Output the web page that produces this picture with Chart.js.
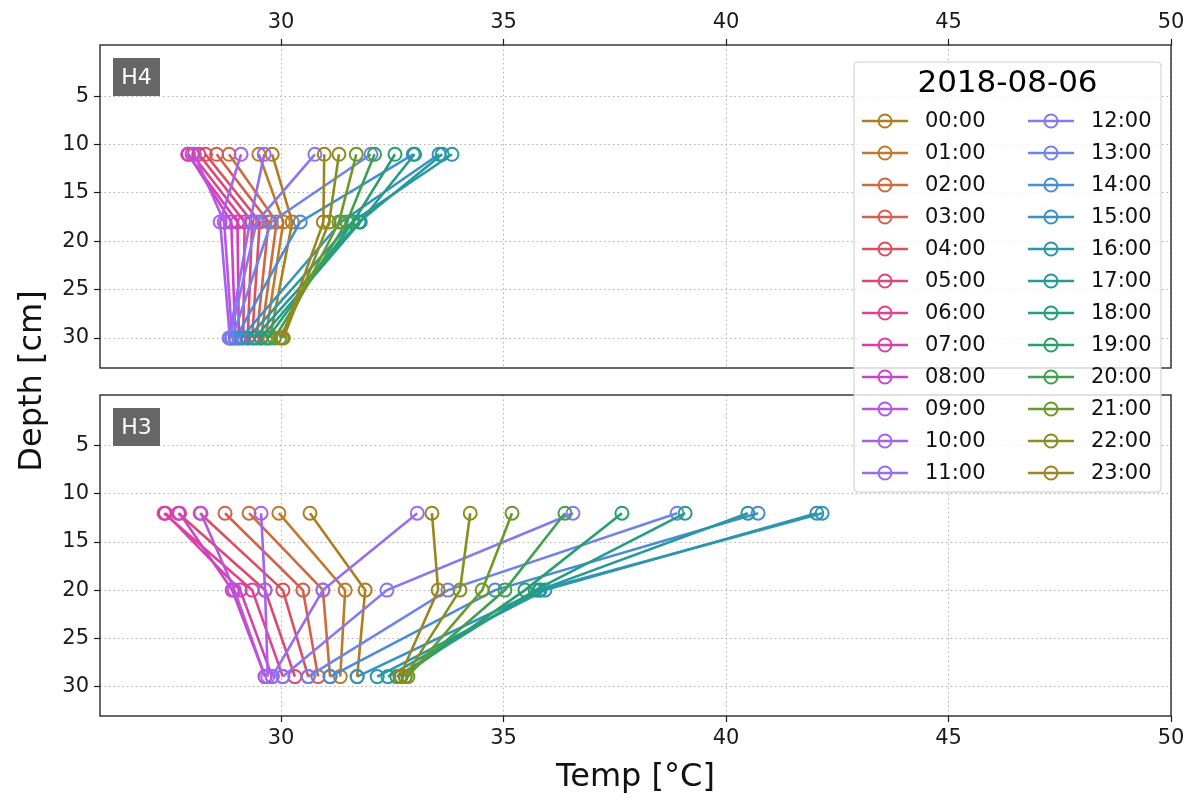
<!DOCTYPE html>
<html>
<head>
<meta charset="utf-8">
<script src="https://cdn.jsdelivr.net/npm/chart.js@4.4.0/dist/chart.umd.min.js"></script>
<style>
  body { margin: 0; background: #fff; }
  #wrap { position: relative; width: 1193px; height: 801px; }
  canvas { position: absolute; left: 0; top: 0; }
</style>
</head>
<body>
<div id="wrap">
  <canvas id="bottomChart" width="1193" height="801"></canvas>
  <canvas id="topChart" width="1193" height="801"></canvas>
</div>
<script>
// Datos
const legendTitle = '2018-08-06';
const hours = ['00:00', '01:00', '02:00', '03:00', '04:00', '05:00', '06:00', '07:00',
  '08:00', '09:00', '10:00', '11:00', '12:00', '13:00', '14:00', '15:00',
  '16:00', '17:00', '18:00', '19:00', '20:00', '21:00', '22:00', '23:00'];

const xTicks = [30, 35, 40, 45, 50];
const yTicks = [5, 10, 15, 20, 25, 30];

// H4: profundidades 11, 18, 30 cm
const depthsH4 = [11, 18, 30];
const h4At11 = [29.8, 29.5, 28.83, 28.55, 28.3, 28.15, 28.0, 27.9, 27.92, 28.05, 29.1, 29.62,
  30.76, 32.02, 32.97, 33.55, 33.84, 33.62, 33.0, 32.56, 32.1, 31.69, 31.3, 30.97];
const h4At18 = [30.25, 30.05, 29.9, 29.72, 29.52, 29.35, 29.18, 29.02, 28.88, 28.72, 28.63, 29.3,
  29.45, 29.78, 30.43, 31.35, 31.6, 31.75, 31.78, 31.62, 31.48, 31.3, 31.08, 30.95];
const h4At30 = [29.75, 29.65, 29.55, 29.45, 29.35, 29.25, 29.15, 29.05, 28.97, 28.9, 28.85, 28.83,
  28.85, 28.9, 28.98, 29.1, 29.25, 29.4, 29.55, 29.7, 29.85, 29.97, 30.05, 30.02];

// H3: profundidades 12, 20, 29 cm
const depthsH3 = [12, 20, 29];
const h3At12 = [30.65, 29.95, 29.28, 28.74, 28.18, 27.69, 27.37, 27.4, 27.72, 28.2, 29.55, 33.06,
  36.56, 38.9, 40.72, 42.16, 42.04, 40.49, 39.08, 37.66, 36.38, 35.19, 34.25, 33.39];
const h3At20 = [31.89, 31.44, 30.94, 30.49, 30.04, 29.64, 29.35, 29.08, 28.9, 28.95, 29.64, 30.94,
  32.38, 33.75, 34.81, 35.82, 35.93, 35.8, 35.71, 35.48, 35.03, 34.52, 34.02, 33.53];
const h3At29 = [31.71, 31.33, 31.1, 30.83, 30.61, 30.31, 30.04, 29.8, 29.64, 29.64, 29.7, 29.8,
  30.04, 30.61, 31.1, 31.71, 32.16, 32.4, 32.6, 32.7, 32.79, 32.85, 32.79, 32.67];

// Colores de cada hora (paleta tipo husl)
const colors = ['#ae7d1c', '#c07a2c', '#cc6c3c', '#d4604c', '#d9505e', '#dc4873', '#de458e', '#d93fac',
  '#cb44c8', '#b856df', '#a662ef', '#966cf4', '#8777f4', '#6f83ee', '#4a8bd8', '#3593c2',
  '#2a97aa', '#259a98', '#249d85', '#28a06c', '#3fa04f', '#6b9a2a', '#868f1f', '#9b8520'];

const FONT = '"DejaVu Sans", "Liberation Sans", sans-serif';

function makeDatasets(depths, rows) {
  return hours.map((h, i) => ({
    label: h,
    data: depths.map((d, k) => ({ x: rows[k][i], y: d })),
    borderColor: colors[i],
    pointBorderColor: colors[i],
    pointBackgroundColor: 'rgba(0,0,0,0)',
    borderWidth: 2.6,
    pointRadius: 6.5,
    pointHoverRadius: 6.5,
    pointBorderWidth: 2,
    tension: 0,
    order: 24 - i
  }));
}

// Marco negro alrededor del area de dibujo y etiqueta del panel
const framePlugin = {
  id: 'frame',
  afterDatasetsDraw(chart, args, opts) {
    const { ctx, chartArea: a } = chart;
    ctx.save();
    ctx.strokeStyle = '#1a1a1a';
    ctx.lineWidth = 1.3;
    ctx.strokeRect(a.left, a.top, a.right - a.left, a.bottom - a.top);
    // caja del panel (H4 / H3)
    ctx.fillStyle = '#666666';
    ctx.fillRect(a.left + 13, a.top + 13, 47, 38);
    ctx.fillStyle = '#ffffff';
    ctx.font = '22px ' + FONT;
    ctx.textAlign = 'center';
    ctx.textBaseline = 'middle';
    ctx.fillText(opts.tag, a.left + 36.5, a.top + 33);
    ctx.restore();
  }
};

// Leyenda en dos columnas y titulo del eje Y compartido
const boxLegend = {
  id: 'boxLegend',
  afterDraw(chart) {
    const { ctx, chartArea: a } = chart;
    const w = 307, h = 430;
    const x0 = a.right - 10 - w, y0 = a.top + 17;
    ctx.save();
    ctx.fillStyle = 'rgba(255,255,255,0.8)';
    ctx.strokeStyle = '#cccccc';
    ctx.lineWidth = 1;
    ctx.beginPath();
    ctx.roundRect(x0, y0, w, h, 4);
    ctx.fill();
    ctx.stroke();
    ctx.fillStyle = '#000';
    ctx.font = '31px ' + FONT;
    ctx.textAlign = 'center';
    ctx.textBaseline = 'middle';
    ctx.fillText(legendTitle, x0 + w / 2, y0 + 22);
    ctx.font = '21px ' + FONT;
    ctx.textAlign = 'left';
    chart.data.datasets.forEach((ds, i) => {
      const col = Math.floor(i / 12), row = i % 12;
      const hx = x0 + 8 + col * 166, hy = y0 + 59 + row * 32;
      ctx.strokeStyle = ds.borderColor;
      ctx.lineWidth = 2.6;
      ctx.beginPath();
      ctx.moveTo(hx, hy);
      ctx.lineTo(hx + 46, hy);
      ctx.stroke();
      ctx.lineWidth = 2;
      ctx.beginPath();
      ctx.arc(hx + 23, hy, 6.5, 0, Math.PI * 2);
      ctx.stroke();
      ctx.fillStyle = '#111';
      ctx.fillText(ds.label, hx + 63, hy + 1);
    });
    // titulo del eje Y entre los dos paneles
    ctx.fillStyle = '#111';
    ctx.font = '32px ' + FONT;
    ctx.textAlign = 'center';
    ctx.translate(33, 381);
    ctx.rotate(-Math.PI / 2);
    ctx.fillText('Depth [cm]', 0, 0);
    ctx.restore();
  }
};

function axisX(position, withTitle) {
  return {
    type: 'linear',
    position: position,
    min: 25.93,
    max: 50,
    afterBuildTicks: s => { s.ticks = xTicks.map(v => ({ value: v })); },
    afterFit: s => { s.height = withTitle ? 85 : 45; },
    grid: { color: '#b0b0b0', lineWidth: 1, drawTicks: true, tickLength: 6, tickColor: '#1a1a1a', tickWidth: 1.2 },
    border: { display: false, dash: [1.5, 3] },
    ticks: { color: '#1a1a1a', font: { family: FONT, size: 21 }, padding: 4, maxRotation: 0 },
    title: {
      display: withTitle,
      text: 'Temp [°C]',
      color: '#111',
      font: { family: FONT, size: 32 },
      padding: { top: 0, bottom: 4 }
    }
  };
}

function axisY() {
  return {
    type: 'linear',
    reverse: true,
    min: -0.3,
    max: 33.1,
    afterBuildTicks: s => { s.ticks = yTicks.map(v => ({ value: v })); },
    afterFit: s => { s.width = 100; },
    grid: { color: '#b0b0b0', lineWidth: 1, drawTicks: true, tickLength: 6, tickColor: '#1a1a1a', tickWidth: 1.2 },
    border: { display: false, dash: [1.5, 3] },
    ticks: { color: '#1a1a1a', font: { family: FONT, size: 21 }, padding: 5 }
  };
}

function makeChart(id, depths, rows, tag, isTop) {
  const plugins = isTop ? [framePlugin, boxLegend] : [framePlugin];
  return new Chart(document.getElementById(id), {
    type: 'line',
    data: { datasets: makeDatasets(depths, rows) },
    options: {
      responsive: false,
      animation: false,
      devicePixelRatio: 1,
      layout: {
        padding: isTop ? { left: 0, top: 0, right: 22, bottom: 433 } : { left: 0, top: 395, right: 22, bottom: 0 }
      },
      scales: {
        x: axisX(isTop ? 'top' : 'bottom', !isTop),
        y: axisY()
      },
      plugins: {
        legend: { display: false },
        tooltip: { enabled: false },
        frame: { tag: tag }
      }
    },
    plugins: plugins
  });
}

makeChart('bottomChart', depthsH3, [h3At12, h3At20, h3At29], 'H3', false);
makeChart('topChart', depthsH4, [h4At11, h4At18, h4At30], 'H4', true);
</script>
</body>
</html>
